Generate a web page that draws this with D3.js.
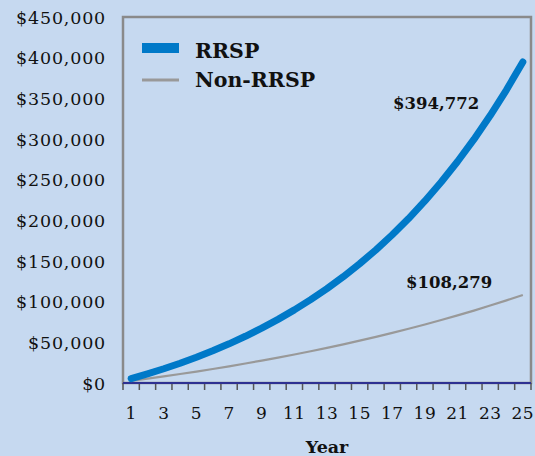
<!DOCTYPE html>
<html>
<script src="https://d3js.org/d3.v7.min.js"></script>
<style>
    body { margin: 0; background: #c6d9f0; }
    svg { display: block; }
    .tick text { font-family: "DejaVu Serif", serif; fill: #111; }
</style>
<body>
<svg width="535" height="456"></svg>
<script>
    // years and balances (end of year)
    var years = d3.range(1, 26);
    var rrsp = [5400, 11232, 17531, 24333, 31680, 39614, 48183, 57438, 67433, 78227,
        89886, 102476, 116075, 130761, 146621, 163751, 182251, 202231, 223810, 247115,
        272284, 299466, 328824, 360530, 394772];
    var nonRrsp = [2600, 5304, 8116, 11041, 14082, 17246, 20536, 23957, 27515, 31216,
        35065, 39067, 43230, 47559, 52061, 56744, 61613, 66678, 71945, 77423,
        83120, 89045, 95207, 101615, 108279];
    var yTicks = d3.range(0, 450001, 50000);
    var xLabels = years.filter(function (d) { return d % 2 == 1; });

    var svg = d3.select('svg');
    var pLeft = 123, pRight = 531, pTop = 17, pBottom = 383;

    var x = d3.scaleBand().domain(years).range([pLeft, pRight]).padding(0);
    var y = d3.scaleLinear().domain([0, 450000]).range([pBottom, pTop]);
    var cx = function (d) { return x(d) + x.bandwidth() / 2; };

    // frame
    svg.append('rect')
        .attr('x', pLeft).attr('y', pTop)
        .attr('width', pRight - pLeft).attr('height', pBottom - pTop)
        .attr('fill', 'none').attr('stroke', '#8a8a8a').attr('stroke-width', 2.5);

    // y axis labels
    var yAxis = svg.append('g').attr('transform', 'translate(' + pLeft + ',0)')
        .call(d3.axisLeft(y).tickValues(yTicks).tickSize(0).tickPadding(17)
            .tickFormat(function (d) { return '$' + d3.format(',')(d); }));
    yAxis.select('.domain').remove();
    yAxis.selectAll('text').style('font-size', '17.5px').style('letter-spacing', '0.8px')
        .attr('dy', '0.36em');

    // x tick marks at year boundaries
    var bounds = years.map(function (d) { return x(d); }).concat([pRight]);
    svg.append('g').selectAll('line').data(bounds).enter().append('line')
        .attr('x1', function (d) { return d; }).attr('x2', function (d) { return d; })
        .attr('y1', pBottom).attr('y2', pBottom + 7)
        .attr('stroke', '#555').attr('stroke-width', 1.5);

    var xAxis = svg.append('g').attr('transform', 'translate(0,' + pBottom + ')')
        .call(d3.axisBottom(x).tickValues(xLabels).tickSize(0).tickPadding(24));
    xAxis.select('.domain').remove();
    xAxis.selectAll('text').style('font-size', '17px').style('letter-spacing', '0.5px');

    svg.append('line')
        .attr('x1', pLeft).attr('x2', pRight).attr('y1', pBottom).attr('y2', pBottom)
        .attr('stroke', '#2e3192').attr('stroke-width', 2);

    // lines
    var line = d3.line().x(function (d, i) { return cx(years[i]); }).y(function (d) { return y(d); });

    svg.append('path').datum(nonRrsp)
        .attr('d', line).attr('fill', 'none')
        .attr('stroke', '#999').attr('stroke-width', 2.2);

    svg.append('path').datum(rrsp)
        .attr('d', line).attr('fill', 'none')
        .attr('stroke', '#0079c8').attr('stroke-width', 7)
        .attr('stroke-linecap', 'round').attr('stroke-linejoin', 'round');

    // legend
    svg.append('rect').attr('x', 142).attr('y', 43).attr('width', 37).attr('height', 10)
        .attr('fill', '#0079c8');
    svg.append('rect').attr('x', 142).attr('y', 78.5).attr('width', 37).attr('height', 3)
        .attr('fill', '#999');
    svg.append('text').attr('x', 195).attr('y', 58).text('RRSP')
        .attr('font-family', 'DejaVu Serif').attr('font-weight', 'bold').attr('font-size', 20.5).attr('fill', '#111');
    svg.append('text').attr('x', 195).attr('y', 87).text('Non-RRSP')
        .attr('font-family', 'DejaVu Serif').attr('font-weight', 'bold').attr('font-size', 20.5).attr('fill', '#111');

    // end value labels
    var fmt = function (v) { return '$' + d3.format(',')(v); };
    svg.append('text').attr('x', 393).attr('y', 109).text(fmt(rrsp[rrsp.length - 1]))
        .attr('font-family', 'DejaVu Serif').attr('font-weight', 'bold').attr('font-size', 16.5).attr('fill', '#111');
    svg.append('text').attr('x', 406).attr('y', 288).text(fmt(nonRrsp[nonRrsp.length - 1]))
        .attr('font-family', 'DejaVu Serif').attr('font-weight', 'bold').attr('font-size', 16.5).attr('fill', '#111');

    // x title
    svg.append('text').attr('x', (pLeft + pRight) / 2).attr('y', 452.5).attr('text-anchor', 'middle')
        .text('Year')
        .attr('font-family', 'DejaVu Serif').attr('font-weight', 'bold').attr('font-size', 17.5).attr('fill', '#111');
</script>
</body>
</html>
